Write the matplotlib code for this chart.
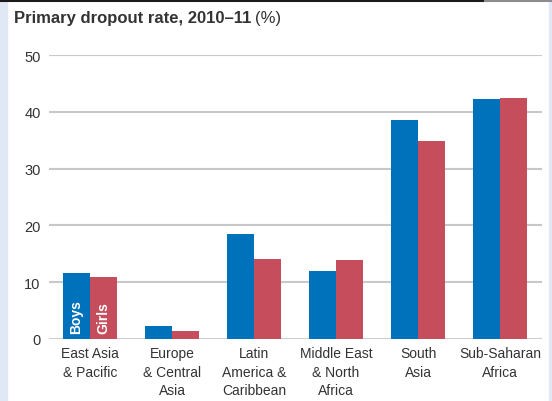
import matplotlib
matplotlib.use("Agg")
import matplotlib.pyplot as plt
from matplotlib.patches import Rectangle
from matplotlib.lines import Line2D
import numpy as np

categories = ["East Asia\n& Pacific", "Europe\n& Central\nAsia", "Latin\nAmerica &\nCaribbean",
              "Middle East\n& North\nAfrica", "South\nAsia", "Sub-Saharan\nAfrica"]
boys = [11.6, 2.3, 18.5, 12.0, 38.6, 42.3]
girls = [10.9, 1.4, 14.1, 13.9, 34.9, 42.4]
yticks = [0, 10, 20, 30, 40, 50]

BLUE = "#0071bb"
RED = "#c64d5b"
TXT = "#333333"
sans = ["Liberation Sans", "DejaVu Sans"]

W, H = 552, 402
fig = plt.figure(figsize=(W/100, H/100), dpi=100)
fig.patch.set_facecolor("white")
# side strips
fig.patches.append(Rectangle((0, 0), 7/W, 1, transform=fig.transFigure, color="#dfe8f4", zorder=0))
fig.patches.append(Rectangle((549/W, 0), 3/W, 1, transform=fig.transFigure, color="#dfe8f4", zorder=0))
# top border
fig.add_artist(Line2D([0, 485/W], [1-1/H, 1-1/H], transform=fig.transFigure, color="#1a1a1a", lw=2.2))
fig.add_artist(Line2D([485/W, 1], [1-1/H, 1-1/H], transform=fig.transFigure, color="#8c8c8c", lw=2.2))

ax = fig.add_axes([49/W, 1-340/H, (542-49)/W, (340-56)/H])
x = np.arange(len(categories))
w = 0.33
ax.bar(x - w/2, boys, width=w, color=BLUE, zorder=3)
ax.bar(x + w/2, girls, width=w, color=RED, zorder=3)
ax.set_xlim(-0.5, 5.51)
ax.set_ylim(0, 50)
for s in ax.spines.values():
    s.set_visible(False)
for t in yticks:
    ax.axhline(t, color="#c8c8c8", lw=1.5 if t else 2.0, zorder=1)
ax.set_yticks(yticks)
ax.set_yticklabels([str(t) for t in yticks], fontsize=10.5, color=TXT, family=sans)
ax.tick_params(axis="y", length=0, pad=6)
ax.set_xticks(x)
ax.set_xticklabels(categories, fontsize=10, color=TXT, family=sans, linespacing=1.42)
ax.tick_params(axis="x", length=0, pad=5)

ax.text(0 - w/2, 1.1, "Boys", rotation=90, color="white", fontsize=10, fontweight="bold",
        ha="center", va="bottom", zorder=4, family=sans)
ax.text(0 + w/2, 1.1, "Girls", rotation=90, color="white", fontsize=10, fontweight="bold",
        ha="center", va="bottom", zorder=4, family=sans)

t0 = fig.text(14/W, 1-18/H, "Primary dropout rate, 2010–11", fontsize=12, fontweight="bold",
              color=TXT, ha="left", va="center", family=sans)
r = fig.canvas.get_renderer()
bb = t0.get_window_extent(renderer=r)
fig.text((bb.x1 + 4)/W, 1-18/H, "(%)", fontsize=12, color=TXT, ha="left", va="center",
         family=sans)

fig.savefig("out.png", dpi=100, facecolor="white")
